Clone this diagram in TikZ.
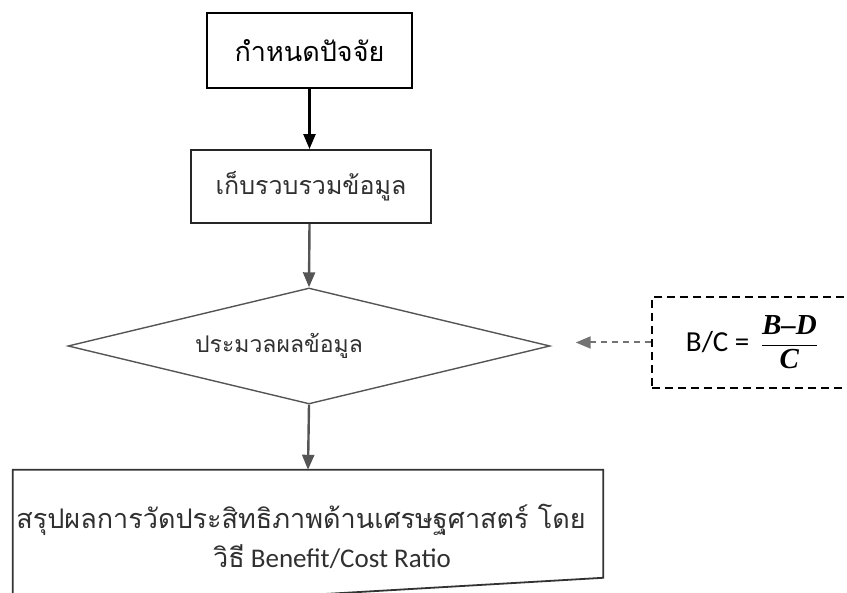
\documentclass[tikz,border=0pt]{standalone}
\usepackage{fontspec}
\setmainfont{Carlito}
\newfontfamily\thai[Script=Thai]{Loma}
\newfontfamily\tnr{Liberation Serif}
\usetikzlibrary{arrows.meta,shapes.geometric,calc}
\definecolor{inkgray}{HTML}{555555}
\definecolor{txtgray}{HTML}{303030}
\tikzset{
  boxstyle/.style={draw=black, line width=2.2pt, rectangle, inner sep=0pt, align=center},
  decide/.style={draw=inkgray, line width=1.4pt, shape=diamond, shape aspect=4.2, inner sep=0pt,
     minimum width=482pt, minimum height=116pt, text=txtgray},
  flowarrow/.style={line width=2.4pt, -{Triangle[length=15pt,width=12pt]}},
  dasharrow/.style={draw=black!55, line width=2pt, dash pattern=on 6pt off 5pt,
     -{Triangle[length=15pt,width=12pt]}},
  formulabox/.style={draw=black, line width=2.4pt, dash pattern=on 8pt off 5pt, inner sep=0pt}
}
\begin{document}
\begin{tikzpicture}[x=1pt,y=1pt]
\useasboundingbox (0,0) rectangle (847,593);
% boxes
\node[boxstyle, minimum width=205pt, minimum height=75pt,
      font=\thai\fontsize{27}{32}\selectfont] (b1) at (309.5,542.5) {กำหนดปัจจัย};
\node[boxstyle, draw=black!85, line width=1.8pt, minimum width=240pt, minimum height=73pt, text=txtgray,
      font=\thai\fontsize{25}{30}\selectfont] (b2) at (311,406.5) {เก็บรวบรวมข้อมูล};
\node[decide, font=\thai\fontsize{23}{28}\selectfont] (dm) at (309,247) {ประมวลผลข้อมูล\hspace*{60pt}};
\node[rectangle, inner sep=0pt, minimum width=590pt, minimum height=132pt, align=center,
      text=txtgray, font=\fontsize{27}{39}\selectfont] (b3) at (308,57)
      {{\thai สรุปผลการวัดประสิทธิภาพด้านเศรษฐศาสตร์ โดย}\hspace*{14pt}\\
       \hspace*{48pt}{\thai วิธี} Benefit/Cost Ratio};
\draw[draw=black!80, line width=1.8pt]
  (b3.north west) -- (b3.north east) -- ($(b3.north east)+(0,-108)$)
  -- ($(b3.south west)+(0,-10)$) -- cycle;
% formula box
\node[formulabox, minimum width=200pt, minimum height=91pt] (bc) at (752,250.5)
  {\fontsize{29}{34}\selectfont B/C = \,$\displaystyle\frac{\mbox{\tnr\bfseries\itshape B–D}}{\mbox{\tnr\bfseries\itshape C}}$};
% connectors
\draw[flowarrow, draw=black] (b1.south) -- (b1.south |- b2.north);
\draw[flowarrow, draw=inkgray] (b2.south -| b1.south) -- (dm.north);
\draw[flowarrow, draw=inkgray] (dm.south) -- (b3.north);
\draw[dasharrow, shorten >=25pt] (bc.west) -- (bc.west -| dm.east);
\end{tikzpicture}
\end{document}
